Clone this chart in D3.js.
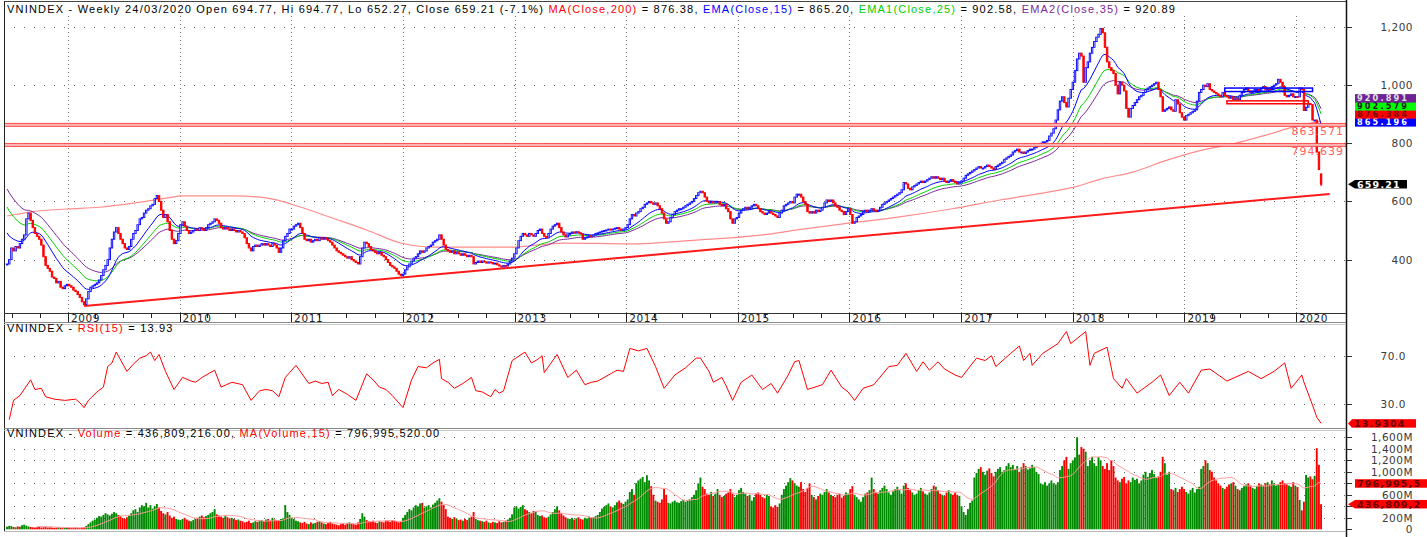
<!DOCTYPE html>
<html>
<head>
<meta charset="utf-8">
<script src="https://cdn.jsdelivr.net/npm/d3@7"></script>
<style>
  body { margin: 0; background: #fff; }
  svg { display: block; font-family: "DejaVu Sans", Verdana, sans-serif; }
</style>
</head>
<body>
<div id="chart"></div>
<script>
const width = 1427
const height = 537

// weekly bars start on this Monday, one bar per week
const firstWeek = new Date(2008, 5, 16)

// weekly closes (one array per calendar year)
const close2008 = [385,400,440,430,445,440,455,470,485,540,560,535,510,490,480,470,450,410,380,370,360,340,335,320,325,305,300,310,315]
const close2009 = [310,305,295,290,280,270,255,245,265,290,305,310,315,320,330,345,365,380,400,440,470,495,510,490,470,455,440,435,445,470,490,500,520,540,545,560,570,575,585,590,610,620,600,570,545,555,530,500,470,455,465,490]
const close2010 = [520,530,515,500,490,495,500,505,500,510,505,500,510,520,525,530,540,535,525,510,505,510,505,500,505,500,495,500,495,490,475,455,440,430,445,450,445,450,455,450,455,450,445,455,450,440,425,440,465,480,490,505]
const close2011 = [505,515,520,525,510,490,470,465,470,460,465,470,465,475,470,475,470,465,460,450,440,430,425,420,415,410,405,410,400,395,390,385,410,440,460,455,445,435,430,425,420,425,415,410,400,390,380,375,370,360,350,345]
const close2012 = [350,365,375,385,395,405,410,420,430,425,430,440,445,450,460,465,470,485,470,450,435,430,425,430,420,425,420,415,420,415,410,415,410,385,390,395,390,395,392,388,392,390,385,388,382,378,375,380,378,385,395,405]
const close2013 = [420,440,465,480,490,485,480,490,485,480,490,500,505,490,480,475,490,505,515,520,525,510,495,485,478,485,490,495,492,496,492,488,470,475,478,482,480,485,490,492,495,498,500,502,505,502,505,508,510,505,500,505]
const close2014 = [510,520,540,555,550,560,565,575,580,590,595,600,595,590,595,585,575,560,540,525,530,545,555,565,570,575,575,580,585,590,595,600,610,620,630,635,630,615,600,595,600,595,600,600,590,585,590,575,565,540,525,540]
const close2015 = [545,560,570,575,580,575,580,585,590,585,575,565,560,555,560,565,560,555,550,545,560,570,585,590,595,600,595,615,625,625,615,600,590,565,560,565,560,570,565,570,580,595,605,600,605,595,585,580,570,565,555,565]
const close2016 = [575,555,525,530,545,550,555,565,570,565,570,575,570,565,570,580,590,595,600,605,610,615,620,625,630,640,665,660,645,640,650,655,660,665,670,665,670,675,680,685,680,685,680,675,680,670,665,670,675,670,665,660,665]
const close2017 = [670,680,690,695,700,705,710,715,720,715,715,720,725,720,715,710,720,725,730,735,745,750,755,760,770,775,780,770,770,765,770,775,780,780,785,790,795,800,805,805,810,825,835,850,880,915,945,960,940,925,955,985]
const close2018 = [1010,1050,1090,1110,1100,1010,1060,1080,1110,1130,1150,1165,1175,1195,1180,1130,1080,1060,1050,1040,1000,970,1010,1000,980,920,890,920,930,940,950,960,965,975,985,990,995,1000,1005,1010,985,960,910,915,920,925,915,910,950,935,905,890]
const close2019 = [880,895,900,905,910,915,945,975,985,1000,995,1005,985,980,975,970,965,960,975,965,960,955,960,950,955,950,965,975,985,990,980,975,980,985,985,980,990,995,985,990,985,995,1000,1005,1020,1010,995,965,960,965,970,960]
const close2020 = [961,960,990,985,913,924,937,933,880,880,770,709.6,659.21]

// weekly volume in millions of shares
const vol2008 = [45,60,55,40,35,50,45,70,80,65,50,40,35,30,35,40,30,35,40,30,35,30,25,30,35,25,20,25,30]
const vol2009 = [25,20,25,30,25,20,30,35,60,90,120,150,170,200,230,220,250,280,260,240,270,300,280,250,230,200,180,210,240,280,330,350,300,380,420,400,460,380,420,360,400,440,380,320,280,260,300,240,200,220,180,170]
const vol2010 = [160,180,200,170,150,140,160,180,200,220,240,210,230,250,280,300,350,260,240,220,200,230,210,190,200,180,160,170,150,140,120,130,150,110,120,140,130,150,160,140,170,180,150,200,170,160,150,180,190,420,300,250]
const vol2011 = [200,180,150,140,120,110,130,100,90,120,100,110,130,140,120,100,90,110,130,100,90,80,70,90,100,80,110,120,100,90,80,120,180,280,220,160,140,130,150,120,110,140,130,120,150,140,130,160,150,140,120,130]
const vol2012 = [200,250,300,350,330,380,420,400,450,460,380,400,420,380,430,460,500,540,480,420,350,220,200,180,210,190,160,170,150,180,160,200,220,300,180,160,150,140,130,150,120,110,130,120,110,140,120,130,150,170,200,260]
const vol2013 = [380,400,360,390,420,350,330,300,280,320,310,250,230,240,210,200,220,260,300,350,400,330,280,240,210,190,180,200,170,190,210,180,170,200,190,220,200,210,230,250,300,360,390,420,450,400,380,420,470,500,460,440]
const vol2014 = [480,520,650,700,600,800,850,880,910,820,940,850,750,600,500,480,460,520,700,600,460,450,480,500,470,460,490,510,480,500,520,560,600,680,800,900,740,700,620,600,650,580,620,700,600,560,580,620,640,700,620,560]
const vol2015 = [600,680,720,650,620,580,600,500,560,620,640,600,560,540,600,580,400,380,420,390,450,600,700,760,820,890,850,800,760,740,820,700,650,720,800,600,560,520,580,620,600,650,700,640,600,580,560,600,620,550,580,640]
const vol2016 = [620,700,750,600,560,520,480,560,620,640,680,900,700,650,620,680,720,760,700,640,600,660,700,740,680,620,760,800,720,680,640,600,620,680,720,660,620,600,640,700,760,740,680,620,600,580,640,680,620,600,640,600,580]
const vol2017 = [400,300,250,350,460,500,900,980,1050,1080,1000,950,1020,1060,980,920,1000,1050,1080,1000,1030,1100,1150,1080,1120,1050,1100,1000,1080,1150,1100,1040,1060,1120,1080,1000,960,800,780,820,760,800,850,800,780,820,1030,1100,1200,1260,1050,1150]
const vol2018 = [1200,1250,1600,1300,1430,1400,1350,1100,1200,1260,1150,1100,1260,1200,1100,1050,1150,1030,1200,1100,900,850,820,880,910,800,850,820,900,860,880,800,850,950,1000,910,980,1030,960,900,920,1000,1260,1150,950,1000,700,680,720,650,700,740]
const vol2019 = [700,650,620,680,720,640,700,740,1050,1100,1200,1150,1030,1000,900,850,800,760,720,700,740,780,800,820,760,700,680,720,750,780,800,760,720,700,750,800,780,760,800,820,780,850,800,760,780,820,850,800,780,760,740,820]
const vol2020 = [760,735,510,330,480,945,900,920,870,930,1410,1120,436.809216]

// last bar as printed in the header
const lastBar = { open: 694.77, high: 694.77, low: 652.27, close: 659.21, change: -7.1 }

// indicator settings; EMA start values read at the left edge of the chart
const emaPeriods = [15, 25, 35]
const emaStart = [492, 581, 643]
const emaColors = ["#0000ff", "#00d000", "#7a2a9a"]
const emaTagValues = [865.196, 902.579, 920.891]
const emaTagFill = ["#0000ff", "#00ff00", "#6e2296"]
const emaTagText = ["#ffffff", "#1a1a1a", "#e0e0e0"]
const ma200Last = 876.384

// MA(Close,200): [week number, value]
const ma200Points = [[0,550],[12,565],[28,574],[43,580],[59,594],[75,612],[82,619],[106,619],[121,612],[137,581],[152,543],[168,502],[184,457],[199,443],[235,443],[260,457],[291,454],[322,467],[353,485],[370,503],[394,526],[417,547],[441,574],[464,605],[487,633],[499,650],[511,677],[526,701],[542,742],[557,774],[573,798],[589,830],[602,858],[614,876.38]]

// RSI(15): [week number, value]
const rsiPoints = [[1,17],[3,33],[6,37],[11,50],[13,42],[16,43],[18,36],[22,34],[27,33],[32,34],[34,31],[36,27],[38,33],[42,40],[45,44],[47,61],[49,64],[51,73],[56,57],[59,63],[62,68],[65,70],[67,73],[69,66],[71,71],[74,57],[78,42],[82,52],[86,49],[88,48],[92,53],[97,58],[100,44],[105,48],[110,46],[114,33],[118,41],[121,42],[124,41],[127,36],[130,52],[135,62],[141,47],[144,49],[147,47],[150,48],[152,37],[155,42],[159,38],[163,33],[168,55],[171,50],[174,44],[177,42],[180,37],[185,27],[189,50],[192,61],[196,60],[199,64],[202,67],[203,51],[206,48],[209,43],[213,47],[217,52],[219,41],[222,40],[226,36],[228,42],[230,39],[232,41],[236,66],[242,73],[245,64],[248,67],[250,70],[251,56],[257,71],[262,52],[266,58],[270,46],[273,48],[276,49],[282,55],[285,58],[288,57],[291,76],[295,74],[299,76],[303,61],[307,43],[312,54],[317,60],[322,68],[324,68],[328,57],[330,48],[334,52],[336,45],[339,33],[343,48],[348,54],[353,42],[357,47],[360,39],[365,54],[368,65],[370,66],[374,42],[381,46],[385,58],[390,44],[393,40],[396,33],[400,43],[405,46],[412,61],[416,62],[420,72],[425,57],[428,65],[431,58],[435,65],[438,59],[443,54],[446,52],[449,59],[453,68],[457,66],[460,70],[462,61],[469,72],[473,78],[475,66],[478,72],[479,62],[484,72],[491,80],[495,90],[497,80],[504,90],[506,62],[508,72],[514,77],[517,51],[521,43],[523,51],[528,39],[535,48],[539,54],[543,37],[548,48],[552,39],[558,58],[562,59],[570,49],[580,57],[586,51],[592,57],[597,64],[600,43],[605,54],[606,48],[610,29],[612,19],[614,13.93]]
const rsiLast = 13.9304
const volMaLast = 796.99552

// drawn support / resistance levels
const levels = [863.571, 794.639]
const trendLine = [[36, 240], [618, 626]]
const boxes = [
  { from: 569, to: 610, top: 990, bottom: 978, color: "#0000ff" },
  { from: 570, to: 608, top: 946, bottom: 936, color: "#ff0000" }
]

const priceTicks = [400, 600, 800, 1000, 1200]
const rsiTicks = [30, 70]
const volTicks = [0, 200, 400, 600, 800, 1000, 1200, 1400, 1600]

const closes = [].concat(close2008, close2009, close2010, close2011, close2012, close2013, close2014, close2015, close2016, close2017, close2018, close2019, close2020)
const volumes = [].concat(vol2008, vol2009, vol2010, vol2011, vol2012, vol2013, vol2014, vol2015, vol2016, vol2017, vol2018, vol2019, vol2020)

const bars = closes.map((c, i) => ({
  i: i,
  date: d3.timeDay.offset(firstWeek, i * 7),
  open: i === closes.length - 1 ? lastBar.open : (i ? closes[i - 1] : c),
  close: c,
  volume: volumes[i]
}))
const weekDate = i => d3.timeDay.offset(firstWeek, i * 7)

function ema(values, n, start) {
  const k = 2 / (n + 1)
  let e = start
  return values.map((v, i) => i === 0 ? e : (e = e + k * (v - e)))
}
const emas = emaPeriods.map((n, j) => ema(closes, n, emaStart[j]))
const volMa = volumes.map((v, i) => i < 14 ? null : d3.mean(volumes.slice(i - 14, i + 1)))

// ---- layout
const left = 4, right = 1346
const main = { top: 1, bottom: 313 }
const rsiP = { top: 324, bottom: 428 }
const volP = { top: 430, bottom: 531 }

const x = d3.scaleTime()
  .domain([firstWeek, bars[bars.length - 1].date])
  .range([7.1, 1321.1])
const y = d3.scaleLinear().domain([400, 1200]).range([259.6, 27])
const yRsi = d3.scaleLinear().domain([30, 70]).range([404, 355.7])
const yVol = d3.scaleLinear().domain([0, 1600]).range([529.3, 437.3])

const svg = d3.select("#chart").append("svg")
  .attr("width", width)
  .attr("height", height)

const defs = svg.append("defs")
function clip(id, p) {
  defs.append("clipPath").attr("id", id).append("rect")
    .attr("x", left).attr("y", p.top).attr("width", right - left).attr("height", p.bottom - p.top)
}
clip("clipMain", main); clip("clipRsi", rsiP); clip("clipVol", volP)

// ---- grids
const years = d3.timeYear.range(new Date(2009, 0, 1), new Date(2020, 0, 2))
const quarters = d3.timeMonth.every(3).range(new Date(2008, 6, 1), new Date(2020, 3, 1)).filter(d => d.getMonth() !== 0)

svg.append("g").selectAll("line").data(years).join("line")
  .attr("x1", d => Math.round(x(d)) + 0.5).attr("x2", d => Math.round(x(d)) + 0.5)
  .attr("y1", 16).attr("y2", main.bottom)
  .attr("stroke", "#777").attr("stroke-dasharray", "1,3")

svg.append("g").selectAll("line").data(priceTicks).join("line")
  .attr("x1", left).attr("x2", right)
  .attr("y1", d => Math.round(y(d)) + 0.5).attr("y2", d => Math.round(y(d)) + 0.5)
  .attr("stroke", "#666").attr("stroke-dasharray", "1,9")

svg.append("g").selectAll("line").data(rsiTicks).join("line")
  .attr("x1", left).attr("x2", right)
  .attr("y1", d => Math.round(yRsi(d)) + 0.5).attr("y2", d => Math.round(yRsi(d)) + 0.5)
  .attr("stroke", "#666").attr("stroke-dasharray", "1,9")

svg.append("g").selectAll("line").data(volTicks.slice(1)).join("line")
  .attr("x1", left).attr("x2", right)
  .attr("y1", d => Math.round(yVol(d)) + 0.5).attr("y2", d => Math.round(yVol(d)) + 0.5)
  .attr("stroke", "#666").attr("stroke-dasharray", "1,9")

// ---- main price panel
const gMain = svg.append("g").attr("clip-path", "url(#clipMain)")

const ma200Line = d3.line().x(d => x(weekDate(d[0]))).y(d => y(d[1])).curve(d3.curveMonotoneX)
gMain.append("path").attr("d", ma200Line(ma200Points))
  .attr("fill", "none").attr("stroke", "#ff8c8c").attr("stroke-width", 1.2)

gMain.append("line")
  .attr("x1", x(weekDate(trendLine[0][0]))).attr("y1", y(trendLine[0][1]))
  .attr("x2", x(weekDate(trendLine[1][0]))).attr("y2", y(trendLine[1][1]))
  .attr("stroke", "#ff1a1a").attr("stroke-width", 2)

emas.slice().reverse().forEach((e, k) => {
  const j = emas.length - 1 - k
  const line = d3.line().x((d, i) => x(bars[i].date)).y(d => y(d))
  gMain.append("path").attr("d", line(e))
    .attr("fill", "none").attr("stroke", emaColors[j]).attr("stroke-width", 1)
})

gMain.selectAll("rect.candle").data(bars).join("rect")
  .attr("class", "candle")
  .attr("x", d => x(d.date) - 0.7)
  .attr("width", 1.4)
  .attr("y", d => y(Math.max(d.open, d.close)))
  .attr("height", d => Math.max(1, Math.abs(y(d.open) - y(d.close))))
  .attr("fill", d => d.close >= d.open ? "#ffffff" : "#ff0000")
  .attr("stroke", d => d.close >= d.open ? "#1010ff" : "#ff0000")
  .attr("stroke-width", 1)

// last bar low wick
const lb = bars[bars.length - 1]
gMain.append("line")
  .attr("x1", x(lb.date)).attr("x2", x(lb.date))
  .attr("y1", y(lastBar.high)).attr("y2", y(lastBar.low))
  .attr("stroke", "#ff0000")

boxes.forEach(b => {
  gMain.append("rect")
    .attr("x", x(weekDate(b.from))).attr("width", x(weekDate(b.to)) - x(weekDate(b.from)))
    .attr("y", y(b.top)).attr("height", y(b.bottom) - y(b.top))
    .attr("fill", "none").attr("stroke", b.color).attr("stroke-width", 1.5)
})

levels.forEach(v => {
  gMain.append("rect")
    .attr("x", left).attr("width", right - left)
    .attr("y", y(v) - 1.5).attr("height", 3)
    .attr("fill", "#ffb4b4").attr("stroke", "#ff3030").attr("stroke-width", 0.8)
  svg.append("text")
    .attr("x", right - 2).attr("y", y(v) + 10)
    .attr("text-anchor", "end")
    .attr("font-size", 11).attr("letter-spacing", 1)
    .attr("fill", "#ff6060")
    .text(v.toFixed(3))
})

// ---- RSI panel
const rsiLine = d3.line().x(d => x(weekDate(d[0]))).y(d => yRsi(d[1]))
svg.append("path").attr("clip-path", "url(#clipRsi)")
  .attr("d", rsiLine(rsiPoints))
  .attr("fill", "none").attr("stroke", "#ff0000").attr("stroke-width", 1)

// ---- volume panel
const gVol = svg.append("g").attr("clip-path", "url(#clipVol)")
gVol.selectAll("rect").data(bars).join("rect")
  .attr("x", d => x(d.date) - 1)
  .attr("width", 1.9)
  .attr("y", d => yVol(d.volume))
  .attr("height", d => yVol(0) - yVol(d.volume))
  .attr("fill", d => d.close >= d.open ? "#008a00" : "#ff0000")

const volMaLine = d3.line()
  .defined(d => d !== null)
  .x((d, i) => x(bars[i].date)).y(d => yVol(d))
gVol.append("path").attr("d", volMaLine(volMa))
  .attr("fill", "none").attr("stroke", "#ff9a9a").attr("stroke-width", 1)

// ---- frames and x axis
const frame = svg.append("g").attr("stroke-width", 1)
frame.append("line").attr("x1", left).attr("x2", right).attr("y1", 1.5).attr("y2", 1.5).attr("stroke", "#444")
frame.append("line").attr("x1", left + 0.5).attr("x2", left + 0.5).attr("y1", 1).attr("y2", 531).attr("stroke", "#222")
frame.append("line").attr("x1", right + 0.5).attr("x2", right + 0.5).attr("y1", 0).attr("y2", height).attr("stroke", "#111").attr("stroke-width", 1.5)
frame.append("line").attr("x1", left).attr("x2", right).attr("y1", main.bottom + 0.5).attr("y2", main.bottom + 0.5).attr("stroke", "#333")
;[322.5, 324.5, 428.5, 430.5].forEach((yy, k) => {
  frame.append("line").attr("x1", left).attr("x2", right).attr("y1", yy).attr("y2", yy)
    .attr("stroke", k % 2 ? "#c8c8c8" : "#8a8a8a")
})
frame.append("line").attr("x1", left).attr("x2", right).attr("y1", 531.5).attr("y2", 531.5).attr("stroke", "#bbb")

svg.append("g").selectAll("line").data(quarters).join("line")
  .attr("x1", d => Math.round(x(d)) + 0.5).attr("x2", d => Math.round(x(d)) + 0.5)
  .attr("y1", main.bottom).attr("y2", main.bottom + 5)
  .attr("stroke", "#222")
svg.append("g").selectAll("line").data(years).join("line")
  .attr("x1", d => Math.round(x(d)) + 0.5).attr("x2", d => Math.round(x(d)) + 0.5)
  .attr("y1", main.bottom).attr("y2", 322)
  .attr("stroke", "#222")
svg.append("g").selectAll("text").data(years).join("text")
  .attr("x", d => x(d) + 3).attr("y", 321.5)
  .attr("font-size", 10.5).attr("letter-spacing", 0.6).attr("fill", "#222")
  .text(d3.timeFormat("%Y"))

// ---- right axes (labels hidden behind value tags are left out, as on the chart)
function rightAxis(ticks, scale, fmt, anchorX, hidden) {
  const g = svg.append("g")
  g.selectAll("line").data(ticks).join("line")
    .attr("x1", right + 1).attr("x2", right + 6)
    .attr("y1", d => Math.round(scale(d)) + 0.5).attr("y2", d => Math.round(scale(d)) + 0.5)
    .attr("stroke", "#333")
  g.selectAll("text").data(ticks.filter(d => !hidden.includes(d))).join("text")
    .attr("x", anchorX).attr("y", d => scale(d) + 4)
    .attr("text-anchor", "end")
    .attr("font-size", 10.5).attr("letter-spacing", 0.5).attr("fill", "#3a3a3a")
    .text(fmt)
}
rightAxis(priceTicks, y, d3.format(",.0f"), 1413, [])
rightAxis(rsiTicks, yRsi, d3.format(".1f"), 1406, [])
rightAxis(volTicks, yVol, d => d === 0 ? "0" : d3.format(",")(d) + "M", 1413, [400, 800])

// ---- value tags
function tag(yc, label, fill, color, arrow, boxX, boxW, fs) {
  const g = svg.append("g")
  const h = 8.5
  if (arrow) {
    g.append("path")
      .attr("d", `M${right + 2},${yc} L${boxX},${yc - h / 2} L${boxX},${yc + h / 2} Z`)
      .attr("fill", fill)
  }
  g.append("rect").attr("x", boxX).attr("y", yc - h / 2).attr("width", boxW).attr("height", h).attr("fill", fill)
  g.append("text").attr("x", boxX + 2).attr("y", yc + fs * 0.37)
    .attr("font-size", fs).attr("font-weight", "bold").attr("letter-spacing", 1.2 + (9.5 - fs) * 0.7).attr("fill", color)
    .text(label)
}
// EMA / MA tags stacked upward from the lowest value
const stack = [
  { v: emaTagValues[0], fill: emaTagFill[0], color: emaTagText[0] },
  { v: ma200Last, fill: "#ff0000", color: "#7a0000" },
  { v: emaTagValues[1], fill: emaTagFill[1], color: emaTagText[1] },
  { v: emaTagValues[2], fill: emaTagFill[2], color: emaTagText[2] }
]
const base = y(d3.min(stack, d => d.v)) - 2
stack.forEach((s, k) => tag(base - k * 8, s.v.toFixed(3), s.fill, s.color, false, 1355, 61, 8.2))
tag(y(lastBar.close), lastBar.close.toFixed(2), "#000000", "#ffffff", true, 1355, 52, 9.5)
tag(yRsi(rsiLast), rsiLast.toFixed(4), "#ff0000", "#6a0000", true, 1352, 64, 9.5)
const volLabel = v => d3.format(",.0f")(v * 1e6).slice(0, 9)
tag(yVol(volMaLast), volLabel(volMaLast), "#ff0000", "#6a0000", false, 1355, 72, 9.5)
tag(yVol(volumes[volumes.length - 1]), volLabel(volumes[volumes.length - 1]), "#ff0000", "#6a0000", true, 1355, 72, 9.5)

// ---- panel titles
function title(yb, parts) {
  const t = svg.append("text").attr("x", 7).attr("y", yb)
    .attr("font-family", '"Liberation Sans", Arial, sans-serif')
    .attr("font-size", 11).attr("letter-spacing", 1.2)
  parts.forEach(p => t.append("tspan").attr("fill", p[1]).text(p[0]))
}
const fmt2 = d3.format(".2f")
title(13, [
  [`VNINDEX - Weekly 24/03/2020 Open ${fmt2(lastBar.open)}, Hi ${fmt2(lastBar.high)}, Lo ${fmt2(lastBar.low)}, Close ${fmt2(lastBar.close)} (${lastBar.change}%) `, "#000"],
  ["MA(Close,200)", "#ff0000"], [` = ${fmt2(ma200Last)}, `, "#000"],
  ["EMA(Close,15)", "#0000ff"], [` = ${fmt2(emaTagValues[0])}, `, "#000"],
  ["EMA1(Close,25)", "#00d000"], [` = ${fmt2(emaTagValues[1])}, `, "#000"],
  ["EMA2(Close,35)", "#7a2a9a"], [` = ${fmt2(emaTagValues[2])}`, "#000"]
])
title(332, [["VNINDEX - ", "#000"], ["RSI(15)", "#ff0000"], [` = ${fmt2(rsiLast)}`, "#000"]])
title(437, [
  ["VNINDEX - ", "#000"], ["Volume", "#ff0000"],
  [` = ${d3.format(",.2f")(volumes[volumes.length - 1] * 1e6)}, `, "#000"],
  ["MA(Volume,15)", "#ff0000"], [` = ${d3.format(",.2f")(volMaLast * 1e6)}`, "#000"]
])
</script>
</body>
</html>
